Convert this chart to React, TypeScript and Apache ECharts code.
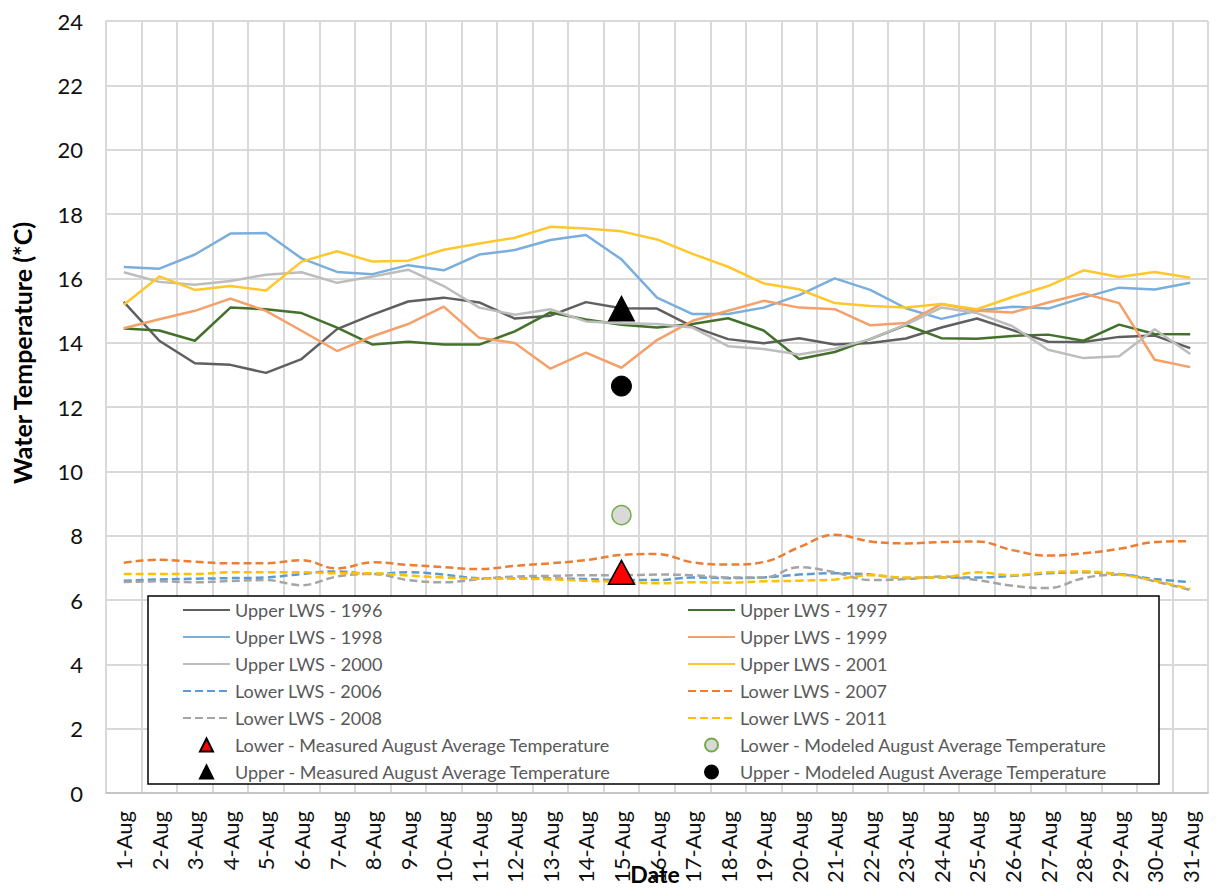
import React, { useEffect, useRef } from "react";
import * as echarts from "echarts";

const days = [
  "1-Aug", "2-Aug", "3-Aug", "4-Aug", "5-Aug", "6-Aug", "7-Aug", "8-Aug", "9-Aug", "10-Aug",
  "11-Aug", "12-Aug", "13-Aug", "14-Aug", "15-Aug", "16-Aug", "17-Aug", "18-Aug", "19-Aug", "20-Aug",
  "21-Aug", "22-Aug", "23-Aug", "24-Aug", "25-Aug", "26-Aug", "27-Aug", "28-Aug", "29-Aug", "30-Aug", "31-Aug",
];

const upper1996 = [15.27, 14.06, 13.36, 13.31, 13.06, 13.49, 14.42, 14.87, 15.28, 15.4, 15.25, 14.75, 14.84, 15.26, 15.07, 15.06, 14.5, 14.11, 13.98, 14.14, 13.94, 13.99, 14.13, 14.47, 14.75, 14.39, 14.03, 14.02, 14.18, 14.22, 13.83];
const upper1997 = [14.44, 14.38, 14.06, 15.09, 15.04, 14.92, 14.47, 13.94, 14.03, 13.94, 13.94, 14.35, 14.94, 14.72, 14.56, 14.47, 14.58, 14.76, 14.38, 13.49, 13.71, 14.11, 14.55, 14.14, 14.12, 14.21, 14.25, 14.06, 14.56, 14.27, 14.26];
const upper1998 = [16.35, 16.3, 16.74, 17.39, 17.41, 16.62, 16.2, 16.13, 16.41, 16.25, 16.74, 16.88, 17.19, 17.35, 16.59, 15.4, 14.89, 14.89, 15.09, 15.48, 16.0, 15.64, 15.07, 14.74, 14.99, 15.12, 15.06, 15.4, 15.71, 15.65, 15.86];
const upper1999 = [14.45, 14.73, 14.99, 15.37, 14.99, 14.37, 13.74, 14.2, 14.58, 15.12, 14.15, 13.99, 13.19, 13.69, 13.22, 14.08, 14.68, 14.99, 15.3, 15.09, 15.04, 14.54, 14.61, 15.2, 14.99, 14.94, 15.25, 15.53, 15.23, 13.47, 13.24];
const upper2000 = [16.19, 15.89, 15.8, 15.92, 16.11, 16.19, 15.86, 16.06, 16.27, 15.76, 15.09, 14.87, 15.04, 14.66, 14.6, 14.58, 14.47, 13.89, 13.8, 13.63, 13.81, 14.11, 14.56, 15.09, 14.92, 14.51, 13.78, 13.52, 13.58, 14.42, 13.65];
const upper2001 = [15.18, 16.06, 15.64, 15.76, 15.62, 16.52, 16.84, 16.52, 16.55, 16.89, 17.08, 17.26, 17.6, 17.55, 17.46, 17.21, 16.76, 16.36, 15.84, 15.66, 15.23, 15.14, 15.09, 15.2, 15.04, 15.42, 15.76, 16.25, 16.04, 16.2, 16.02];
const lower2006 = [6.6, 6.64, 6.66, 6.68, 6.7, 6.81, 6.89, 6.81, 6.86, 6.79, 6.68, 6.68, 6.67, 6.65, 6.62, 6.62, 6.7, 6.68, 6.7, 6.79, 6.83, 6.79, 6.68, 6.7, 6.7, 6.75, 6.83, 6.86, 6.81, 6.65, 6.56];
const lower2007 = [7.16, 7.25, 7.19, 7.14, 7.14, 7.24, 6.98, 7.17, 7.09, 7.02, 6.96, 7.06, 7.14, 7.24, 7.4, 7.43, 7.17, 7.1, 7.18, 7.64, 8.03, 7.82, 7.76, 7.8, 7.82, 7.55, 7.38, 7.45, 7.59, 7.8, 7.83];
const lower2008 = [6.56, 6.58, 6.55, 6.59, 6.62, 6.46, 6.73, 6.81, 6.62, 6.55, 6.65, 6.73, 6.75, 6.77, 6.77, 6.79, 6.77, 6.7, 6.7, 7.02, 6.86, 6.62, 6.65, 6.73, 6.62, 6.44, 6.37, 6.68, 6.79, 6.58, 6.31];
const lower2011 = [6.81, 6.81, 6.81, 6.86, 6.86, 6.86, 6.83, 6.83, 6.76, 6.7, 6.66, 6.66, 6.64, 6.6, 6.56, 6.52, 6.55, 6.54, 6.58, 6.6, 6.64, 6.77, 6.7, 6.7, 6.86, 6.77, 6.86, 6.89, 6.79, 6.6, 6.34];

const markerDay = "15-Aug";
const lowerMeasured = 6.86;
const lowerModeled = 8.64;
const upperMeasured = 15.06;
const upperModeled = 12.65;

const yTicks = { min: 0, max: 24, interval: 2 };

const yTitle = "Water Temperature (*C)";
const xTitle = "Date";

const leftLegend = [
  "Upper LWS - 1996",
  "Upper LWS - 1998",
  "Upper LWS - 2000",
  "Lower LWS - 2006",
  "Lower LWS - 2008",
  "Lower - Measured August Average Temperature",
  "Upper - Measured August Average Temperature",
];
const rightLegend = [
  "Upper LWS - 1997",
  "Upper LWS - 1999",
  "Upper LWS - 2001",
  "Lower LWS - 2007",
  "Lower LWS - 2011",
  "Lower - Modeled August Average Temperature",
  "Upper - Modeled August Average Temperature",
];

const FONT = "Lato, sans-serif";
const TRI = "path://M50,0 L100,100 L0,100 Z";
const CIRC = "path://M0,50 A50,50 0 1 1 100,50 A50,50 0 1 1 0,50 Z";

function legendItems(names: string[]) {
  return names.map((n) => {
    if (n.indexOf("Measured") >= 0) return { name: n, icon: TRI };
    if (n.indexOf("Modeled") >= 0) return { name: n, icon: CIRC };
    return { name: n, itemStyle: { opacity: 0 } };
  });
}

function lineSeries(name: string, data: number[], color: string, dashed: boolean) {
  return {
    name,
    type: "line",
    data,
    symbol: "none",
    smooth: dashed ? 0.4 : false,
    lineStyle: { color, width: 2.5, type: dashed ? [8, 4] : "solid" },
    itemStyle: { color },
    z: 2,
  };
}

export default function App() {
  const ref = useRef<HTMLDivElement>(null);
  useEffect(() => {
    if (!ref.current) return;
    const chart = echarts.init(ref.current, undefined, { renderer: "svg" });
    const legendCommon = {
      orient: "vertical",
      top: 600,
      padding: 0,
      itemWidth: 47,
      itemHeight: 13,
      itemGap: 7,
      selectedMode: false,
      textStyle: { fontFamily: FONT, fontSize: 18, color: "#595959", lineHeight: 20 },
    };
    chart.setOption({
      animation: false,
      backgroundColor: "#fff",
      grid: { left: 106, right: 8, top: 21, bottom: 95, containLabel: false },
      xAxis: {
        type: "category",
        data: days,
        boundaryGap: true,
        axisTick: { show: false },
        axisLine: { lineStyle: { color: "#bfbfbf", width: 1.5 } },
        splitLine: { show: true, interval: 0, lineStyle: { color: "#d9d9d9", width: 2 } },
        axisLabel: { rotate: 90, interval: 0, margin: 18, fontFamily: FONT, fontSize: 22, color: "#111" },
      },
      yAxis: {
        type: "value",
        min: yTicks.min,
        max: yTicks.max,
        interval: yTicks.interval,
        axisLine: { show: true, lineStyle: { color: "#d9d9d9", width: 1.5 } },
        axisTick: { show: false },
        splitLine: { show: true, lineStyle: { color: "#d9d9d9", width: 2 } },
        axisLabel: { margin: 23, fontFamily: FONT, fontSize: 22, color: "#111" },
      },
      legend: [
        { ...legendCommon, left: 182, data: legendItems(leftLegend) },
        { ...legendCommon, left: 687, data: legendItems(rightLegend) },
      ],
      graphic: [
        {
          type: "rect",
          z: 3,
          shape: { x: 148, y: 596, width: 1011, height: 188 },
          style: { fill: "#ffffff", stroke: "#000000", lineWidth: 1.5 },
        },
        {
          type: "text",
          x: 22,
          y: 353,
          rotation: Math.PI / 2,
          style: {
            text: yTitle,
            fontFamily: FONT,
            fontSize: 25,
            fontWeight: "bold",
            fill: "#000",
            align: "center",
            verticalAlign: "middle",
          },
        },
        {
          type: "text",
          x: 655,
          y: 874,
          style: {
            text: xTitle,
            fontFamily: FONT,
            fontSize: 23,
            fontWeight: "bold",
            fill: "#000",
            align: "center",
            verticalAlign: "middle",
          },
        },
      ],
      series: [
        lineSeries("Upper LWS - 1996", upper1996, "#5f5f5f", false),
        lineSeries("Upper LWS - 1997", upper1997, "#43712c", false),
        lineSeries("Upper LWS - 1998", upper1998, "#7aaedd", false),
        lineSeries("Upper LWS - 1999", upper1999, "#f5a068", false),
        lineSeries("Upper LWS - 2000", upper2000, "#bdbdbd", false),
        lineSeries("Upper LWS - 2001", upper2001, "#ffc72c", false),
        lineSeries("Lower LWS - 2006", lower2006, "#5b9bd5", true),
        lineSeries("Lower LWS - 2007", lower2007, "#ed7d31", true),
        lineSeries("Lower LWS - 2008", lower2008, "#a5a5a5", true),
        lineSeries("Lower LWS - 2011", lower2011, "#ffc000", true),
        {
          name: "Lower - Measured August Average Temperature",
          type: "scatter",
          symbol: "triangle",
          symbolSize: [26, 24],
          data: [[markerDay, lowerMeasured]],
          itemStyle: { color: "#ff0000", borderColor: "#000", borderWidth: 1.5, opacity: 1 },
          z: 5,
        },
        {
          name: "Lower - Modeled August Average Temperature",
          type: "scatter",
          symbol: "circle",
          symbolSize: 19,
          data: [[markerDay, lowerModeled]],
          itemStyle: { color: "#d9d9d9", borderColor: "#70ad47", borderWidth: 1.5, opacity: 1 },
          z: 5,
        },
        {
          name: "Upper - Measured August Average Temperature",
          type: "scatter",
          symbol: "triangle",
          symbolSize: [26, 25],
          data: [[markerDay, upperMeasured]],
          itemStyle: { color: "#000", borderColor: "#000", borderWidth: 1, opacity: 1 },
          z: 5,
        },
        {
          name: "Upper - Modeled August Average Temperature",
          type: "scatter",
          symbol: "circle",
          symbolSize: 20,
          data: [[markerDay, upperModeled]],
          itemStyle: { color: "#000", borderColor: "#000", borderWidth: 1, opacity: 1 },
          z: 5,
        },
      ],
    });
    return () => chart.dispose();
  }, []);
  return (
    <div
      ref={ref}
      style={{ position: "absolute", left: 0, top: 0, width: 1216, height: 888 }}
    />
  );
}
